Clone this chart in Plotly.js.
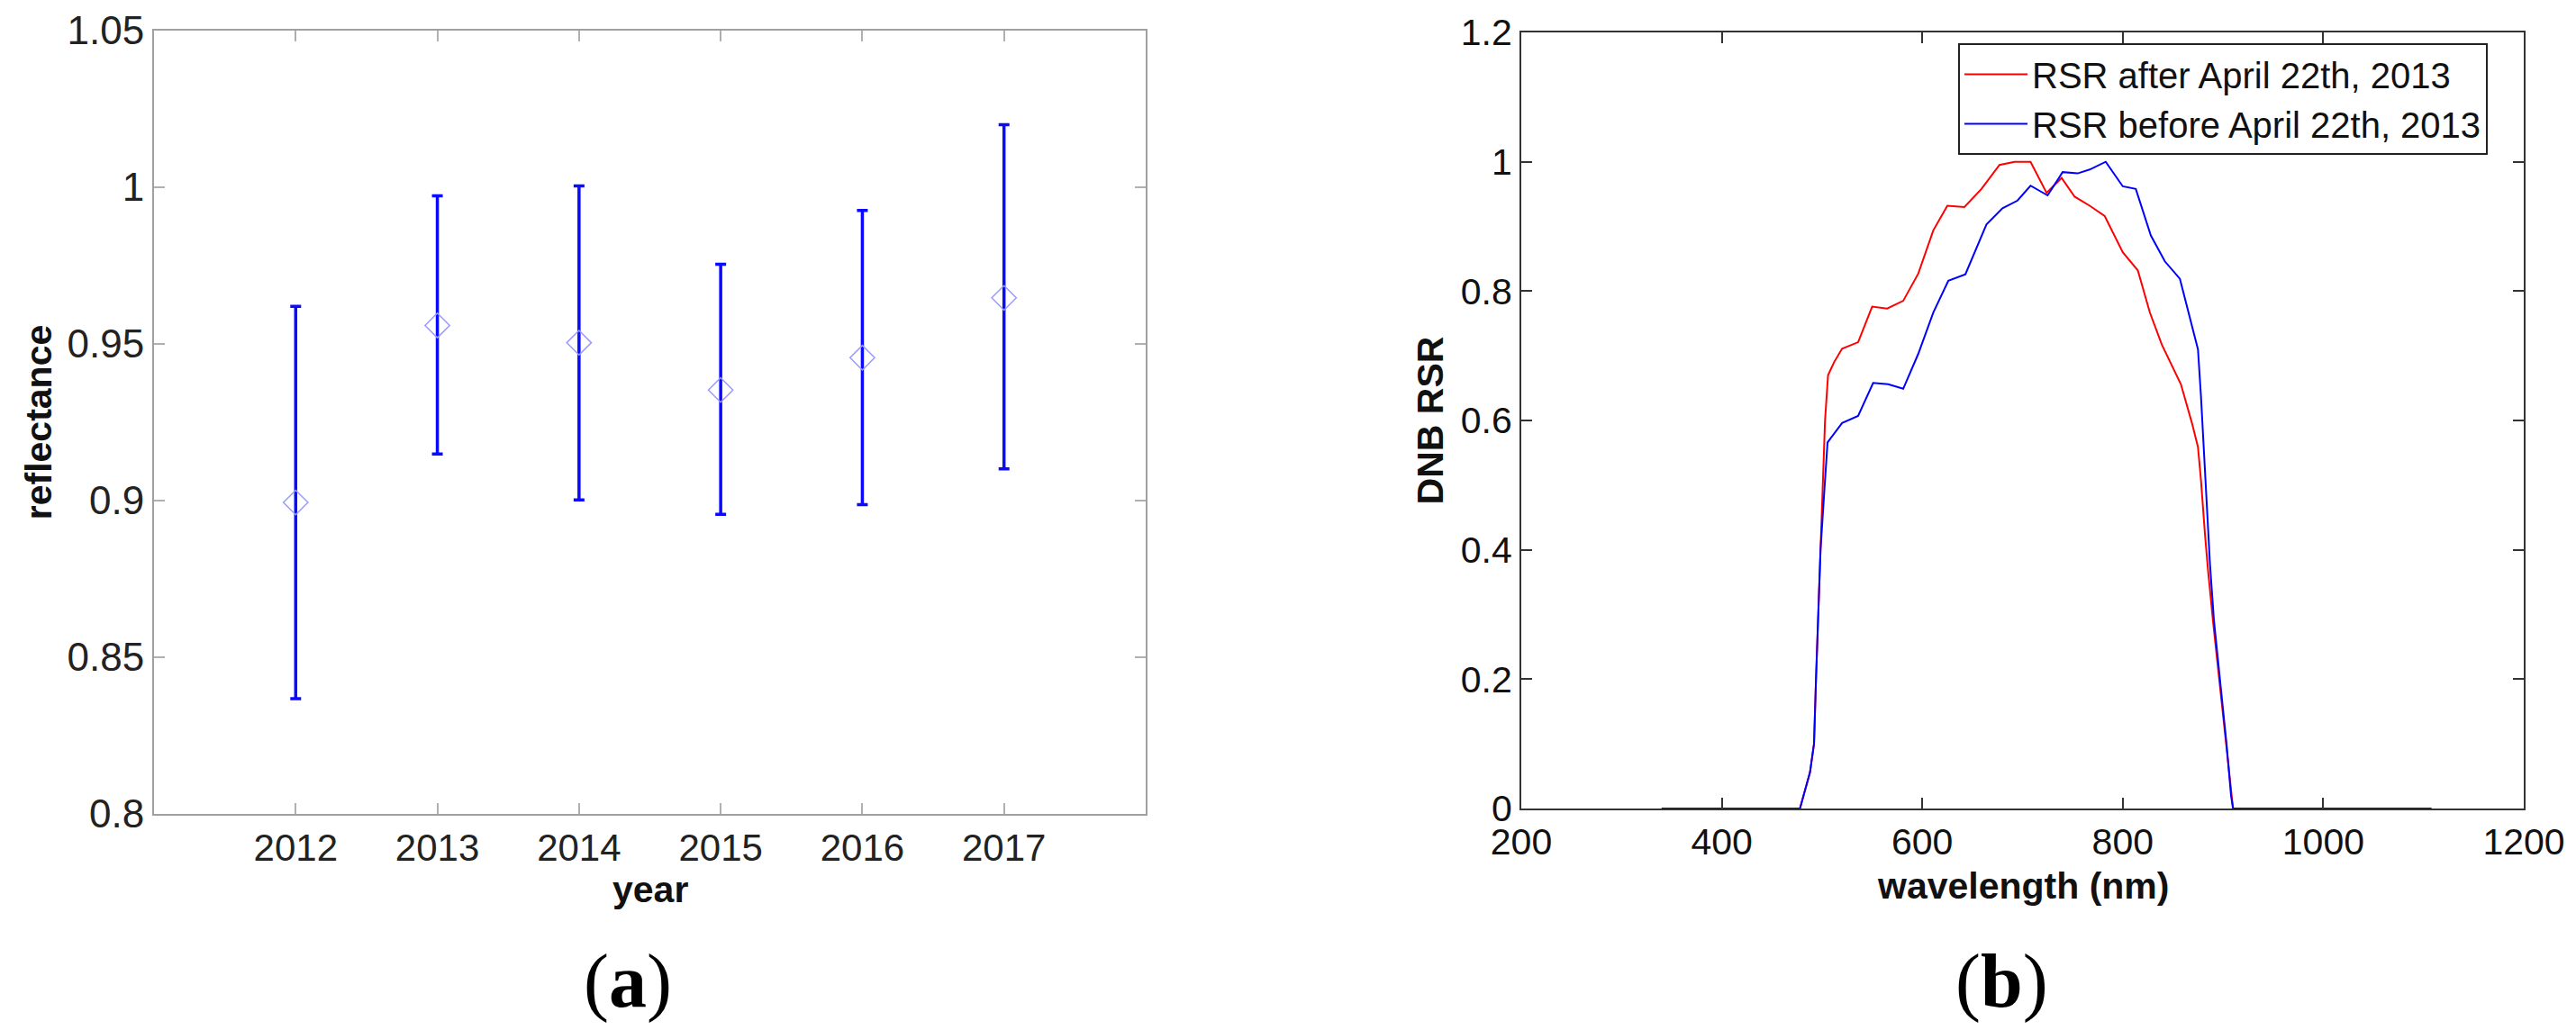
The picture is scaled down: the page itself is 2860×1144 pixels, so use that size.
<!DOCTYPE html>
<html>
<head>
<meta charset="utf-8">
<script src="https://cdn.plot.ly/plotly-3.0.1.min.js"></script>
<style>html,body{margin:0;padding:0;background:#fff;}#chart{width:2860px;height:1144px;}</style>
</head>
<body>
<div id="chart"></div>
<script>
// Panel (a): yearly reflectance with error bars
const years = [2012, 2013, 2014, 2015, 2016, 2017];
const reflMean = [0.8994, 0.9559, 0.9504, 0.9353, 0.9456, 0.9647];
const reflUpper = [0.9620, 0.9973, 1.0004, 0.9754, 0.9926, 1.0200];
const reflLower = [0.8368, 0.9149, 0.9002, 0.8956, 0.8987, 0.9101];
const yearTicks = [2012, 2013, 2014, 2015, 2016, 2017];
const yearTickText = ['2012', '2013', '2014', '2015', '2016', '2017'];
const reflTicks = [0.8, 0.85, 0.9, 0.95, 1.0, 1.05];
const reflTickText = ['0.8', '0.85', '0.9', '0.95', '1', '1.05'];

// Panel (b): DNB relative spectral response
const wlAfter = [345, 400, 450, 478, 488, 492, 494, 498.5, 501, 503, 506, 512, 520, 536, 550, 565, 581, 596, 611, 625, 642, 659, 677, 692, 708, 724, 739, 752, 767, 782, 800, 815, 827, 839, 858, 869, 875, 878, 882, 885, 890, 896, 903, 908, 910, 950, 1000, 1105];
const rsrAfter = [0, 0, 0, 0, 0.056, 0.1, 0.2, 0.4, 0.5, 0.6, 0.67, 0.69, 0.711, 0.721, 0.776, 0.773, 0.785, 0.827, 0.894, 0.932, 0.930, 0.958, 0.995, 1.0, 1.0, 0.952, 0.975, 0.946, 0.932, 0.916, 0.860, 0.832, 0.767, 0.717, 0.656, 0.596, 0.559, 0.508, 0.424, 0.369, 0.29, 0.2, 0.1, 0.02, 0, 0, 0, 0];
const wlBefore = [340, 400, 450, 478, 488, 492, 494, 498.5, 502, 505.5, 520, 536, 551, 566, 581, 596, 611, 626, 643, 664, 680, 695, 708, 725, 740, 755, 767, 783, 800, 813, 828, 842, 857, 867, 875, 878, 881, 884, 887, 891, 897, 903.5, 908, 910, 950, 1000, 1108];
const rsrBefore = [0, 0, 0, 0, 0.056, 0.1, 0.2, 0.4, 0.484, 0.566, 0.596, 0.607, 0.658, 0.656, 0.649, 0.703, 0.767, 0.816, 0.826, 0.903, 0.928, 0.940, 0.963, 0.948, 0.984, 0.982, 0.988, 1.0, 0.962, 0.958, 0.886, 0.846, 0.819, 0.758, 0.710, 0.638, 0.554, 0.466, 0.378, 0.29, 0.2, 0.1, 0.02, 0, 0, 0, 0];
const wlTicks = [200, 400, 600, 800, 1000, 1200];
const rsrTicks = [0, 0.2, 0.4, 0.6, 0.8, 1.0, 1.2];
const rsrTickText = ['0', '0.2', '0.4', '0.6', '0.8', '1', '1.2'];
const seriesNames = ['RSR after April 22th, 2013', 'RSR before April 22th, 2013'];

const errPlus = reflUpper.map((u, i) => u - reflMean[i]);
const errMinus = reflMean.map((m, i) => m - reflLower[i]);

const sansFont = 'Liberation Sans, Arial, sans-serif';
const titleFont = {family: sansFont, size: 41, color: '#111'};

const traces = [
  {
    x: years, y: reflMean, type: 'scatter', mode: 'markers',
    xaxis: 'x', yaxis: 'y', showlegend: false,
    marker: {symbol: 'diamond-open', size: 21, color: '#9a9aff', line: {width: 1.5, color: '#9a9aff'}},
    error_y: {type: 'data', symmetric: false, array: errPlus, arrayminus: errMinus,
              color: '#0a0aff', thickness: 3.5, width: 6}
  },
  {
    x: wlAfter, y: rsrAfter, type: 'scatter', mode: 'lines', name: seriesNames[0],
    xaxis: 'x2', yaxis: 'y2', line: {color: '#ff0000', width: 2}
  },
  {
    x: wlBefore, y: rsrBefore, type: 'scatter', mode: 'lines', name: seriesNames[1],
    xaxis: 'x2', yaxis: 'y2', line: {color: '#0000ff', width: 2}
  }
];

const leftAxisCommon = {
  showgrid: false, zeroline: false, showline: true, linecolor: '#a0a0a0', linewidth: 2,
  mirror: 'ticks', ticks: 'inside', ticklen: 12, tickwidth: 2, tickcolor: '#b0b0b0',
  tickfont: {family: sansFont, size: 44, color: '#222'}
};
const rightAxisCommon = {
  showgrid: false, zeroline: false, showline: true, linecolor: '#333', linewidth: 2,
  mirror: 'ticks', ticks: 'inside', ticklen: 12, tickwidth: 2, tickcolor: '#333',
  tickfont: {family: sansFont, size: 41, color: '#111'}
};

const layout = {
  width: 2860, height: 1144,
  margin: {l: 0, r: 0, t: 0, b: 0},
  paper_bgcolor: '#ffffff', plot_bgcolor: '#ffffff',
  showlegend: true,
  xaxis: Object.assign({}, leftAxisCommon, {
    domain: [171/2860, 1272/2860], anchor: 'y', range: [2011, 2018],
    tickmode: 'array', tickvals: yearTicks, ticktext: yearTickText,
    tickfont: {family: sansFont, size: 42, color: '#222'}
  }),
  yaxis: Object.assign({}, leftAxisCommon, {
    domain: [1 - 904/1144, 1 - 34/1144], anchor: 'x', range: [0.8, 1.05],
    tickmode: 'array', tickvals: reflTicks, ticktext: reflTickText,
    title: {text: '<b>reflectance</b>', font: titleFont, standoff: 4}
  }),
  xaxis2: Object.assign({}, rightAxisCommon, {
    domain: [1689/2860, 2802/2860], anchor: 'y2', range: [200, 1200],
    tickmode: 'array', tickvals: wlTicks
  }),
  yaxis2: Object.assign({}, rightAxisCommon, {
    domain: [1 - 898/1144, 1 - 36/1144], anchor: 'x2', range: [0, 1.2],
    tickmode: 'array', tickvals: rsrTicks, ticktext: rsrTickText,
    title: {text: '<b>DNB RSR</b>', font: titleFont, standoff: 6}
  }),
  legend: {
    x: 2174/2860, y: 1 - 48/1144, xanchor: 'left', yanchor: 'top',
    bgcolor: '#ffffff', bordercolor: '#222', borderwidth: 2,
    font: {family: sansFont, size: 40, color: '#111'},
    tracegroupgap: 0, itemwidth: 70
  },
  annotations: [
    {text: '<b>year</b>', x: 721.5/2860, y: 1 - 988/1144, xref: 'paper', yref: 'paper',
     xanchor: 'center', yanchor: 'middle', showarrow: false, font: titleFont, borderpad: 0},
    {text: '<b>wavelength (nm)</b>', x: 2245.5/2860, y: 1 - 984/1144, xref: 'paper', yref: 'paper',
     xanchor: 'center', yanchor: 'middle', showarrow: false, font: titleFont, borderpad: 0},
    {text: '(<b>a</b>)', x: 697/2860, y: 1 - 1090/1144, xref: 'paper', yref: 'paper',
     xanchor: 'center', yanchor: 'middle', showarrow: false,
     font: {family: 'Liberation Serif, Times New Roman, serif', size: 84, color: '#000'}},
    {text: '(<b>b</b>)', x: 2222/2860, y: 1 - 1090/1144, xref: 'paper', yref: 'paper',
     xanchor: 'center', yanchor: 'middle', showarrow: false,
     font: {family: 'Liberation Serif, Times New Roman, serif', size: 84, color: '#000'}}
  ]
};

Plotly.newPlot('chart', traces, layout, {staticPlot: true, displayModeBar: false});
</script>
</body>
</html>
